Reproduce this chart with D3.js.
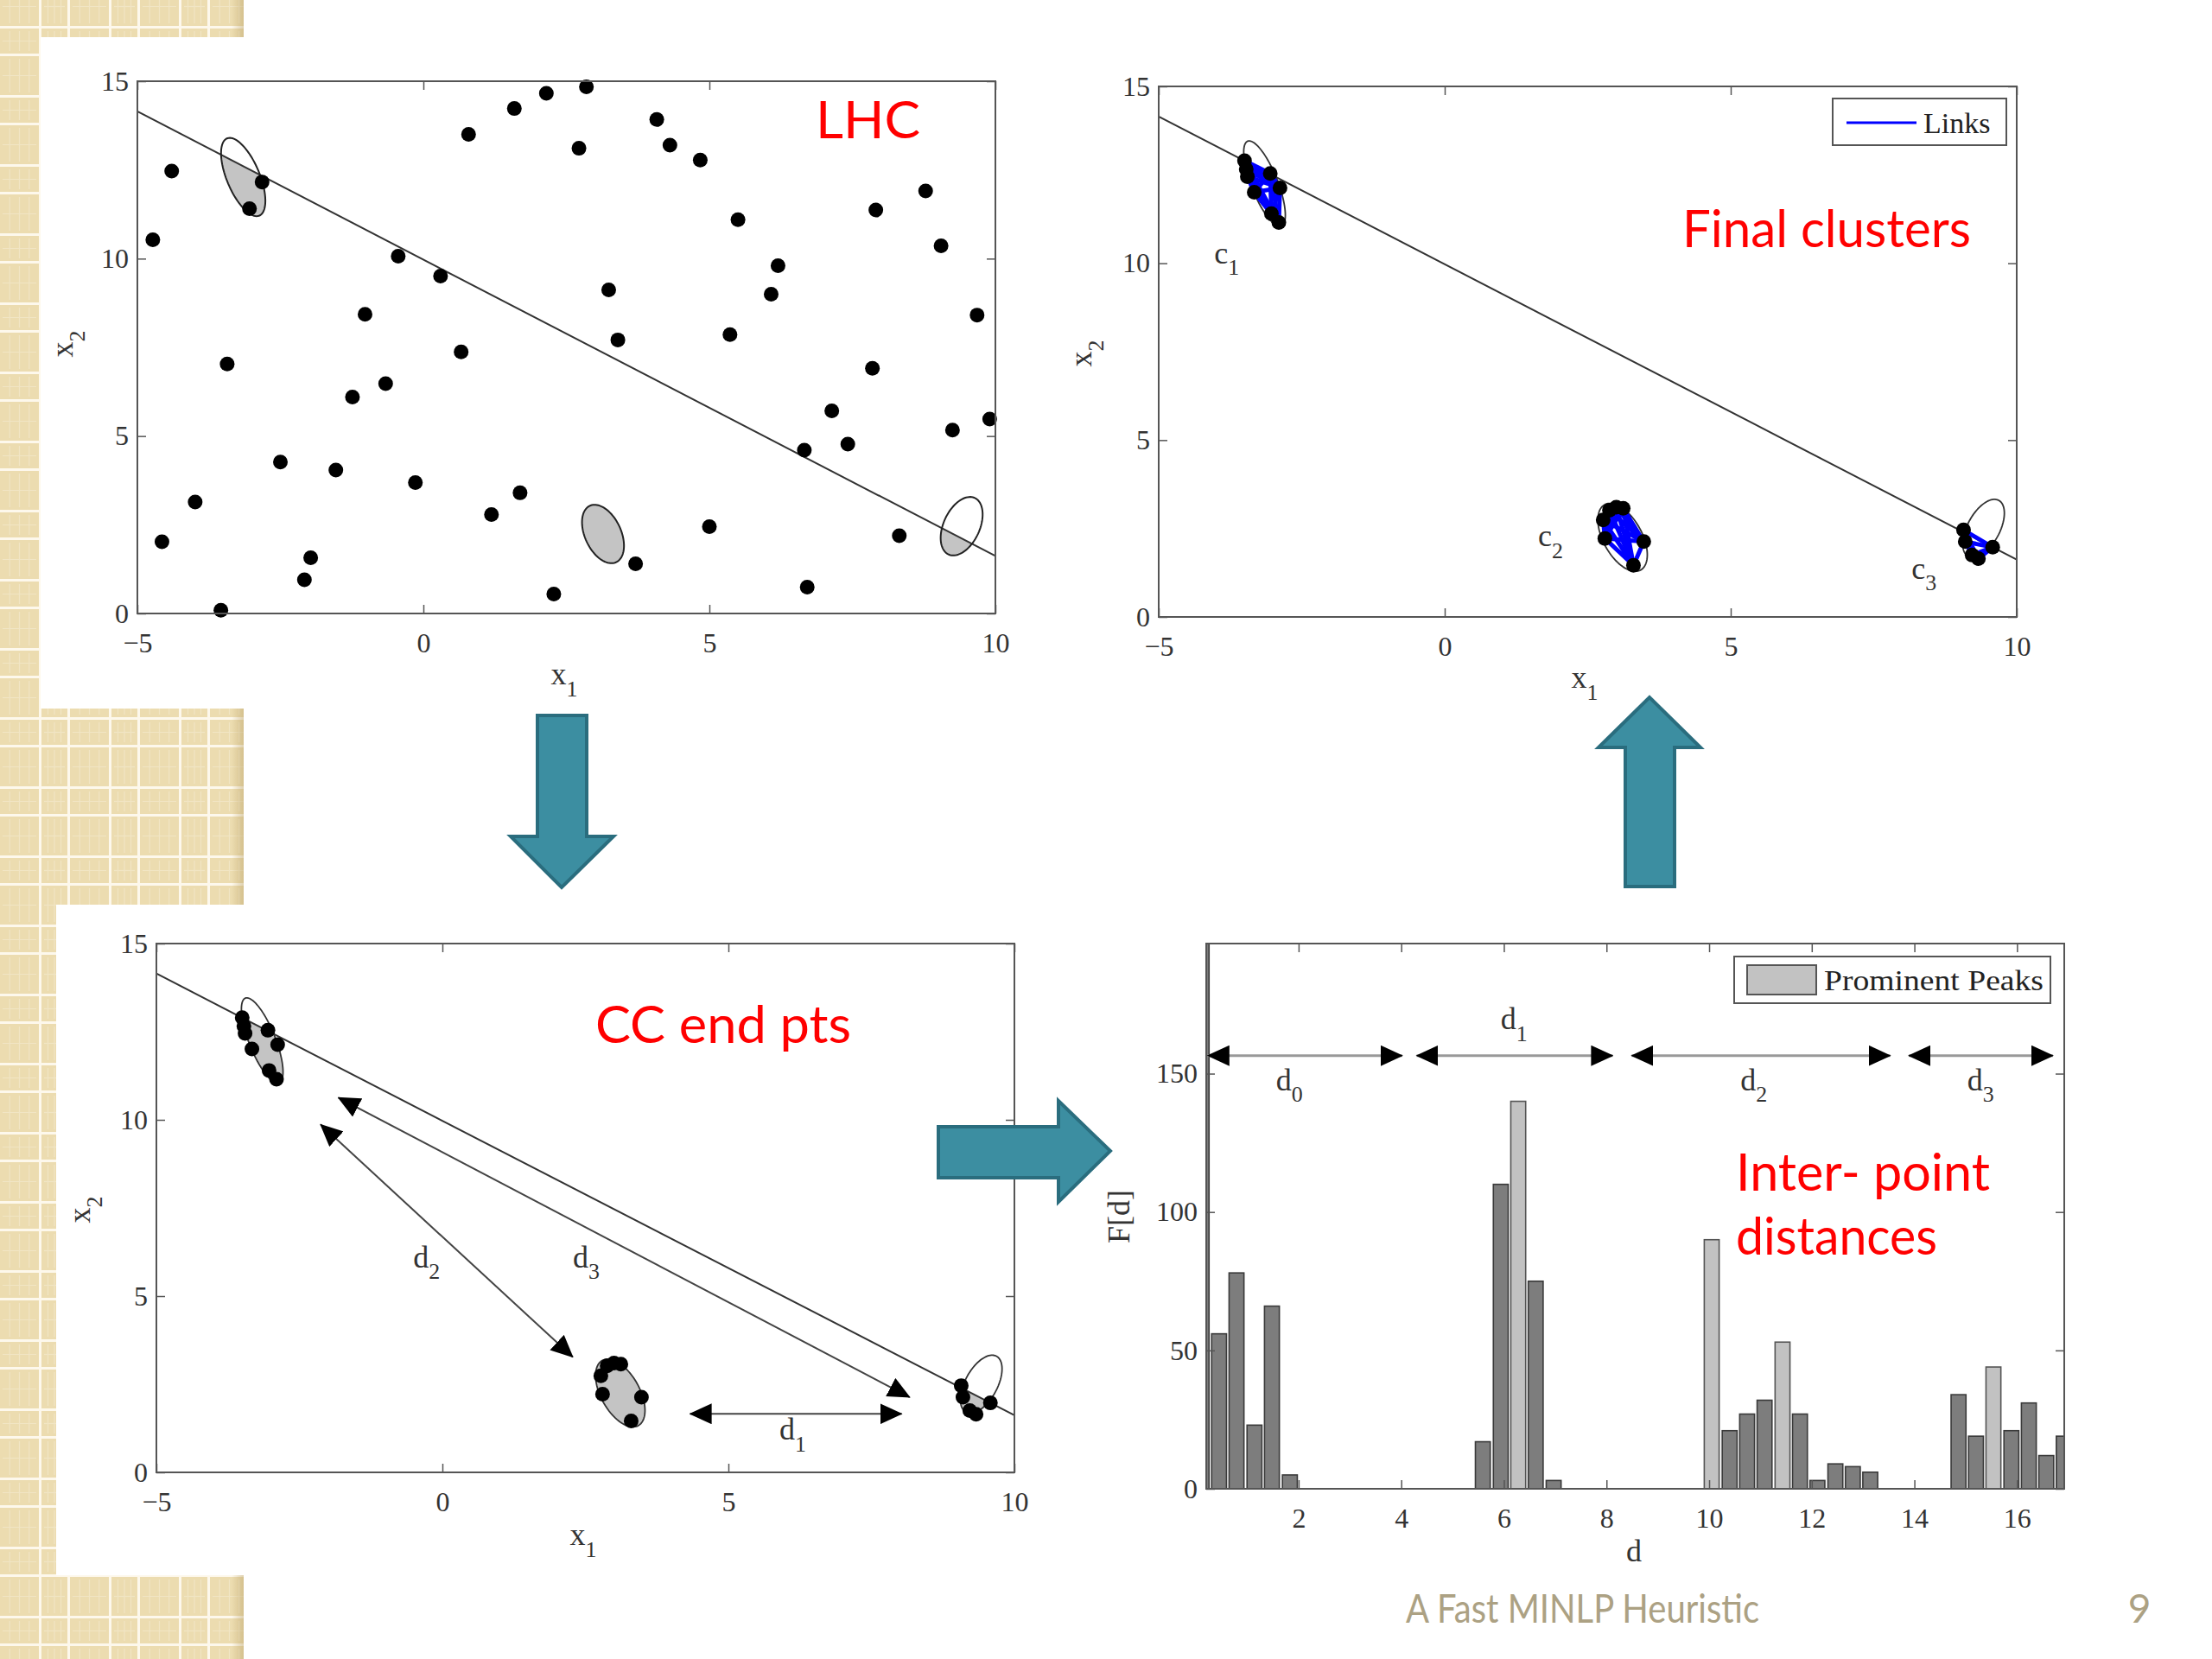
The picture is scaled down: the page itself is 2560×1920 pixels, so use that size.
<!DOCTYPE html>
<html>
<head>
<meta charset="utf-8">
<script src="https://cdn.jsdelivr.net/npm/d3@7"></script>
<style>
body { margin: 0; background: #fff; }
svg { display: block; }
</style>
</head>
<body>
<script>
// ---- data ----
var lhcPoints = [
  [2.85,14.84],[2.15,14.66],[1.59,14.23],[0.79,13.50],[2.72,13.11],[4.08,13.92],[4.31,13.20],[4.84,12.78],
  [-4.40,12.47],[-2.82,12.16],[-3.04,11.41],[5.50,11.10],[7.91,11.37],[8.78,11.91],[9.05,10.36],[-4.73,10.53],
  [-0.44,10.07],[0.30,9.51],[6.20,9.80],[6.08,9.00],[3.24,9.12],[-1.02,8.43],[9.68,8.41],[0.66,7.37],
  [3.40,7.71],[5.36,7.86],[-3.43,7.03],[-0.66,6.48],[-1.24,6.10],[7.85,6.91],[7.14,5.71],[9.90,5.48],
  [9.25,5.17],[7.42,4.77],[6.66,4.60],[-2.50,4.27],[-1.53,4.04],[-0.14,3.69],[1.69,3.40],[-3.99,3.14],
  [1.19,2.79],[5.00,2.45],[-4.57,2.02],[8.32,2.19],[-1.97,1.57],[-2.08,0.95],[3.71,1.40],[2.28,0.55],
  [6.71,0.74],[-3.54,0.09]
];
// ellipses: centre, semi axes (data units), tilt of major axis from vertical (deg)
var lhcEllipses = [
  {cx:-3.15, cy:12.30, a:1.13, b:0.30, tilt:13},
  {cx:3.14,  cy:2.24,  a:0.84, b:0.33, tilt:12},
  {cx:9.41,  cy:2.46,  a:0.84, b:0.33, tilt:-12}
];
var splitLine = [[-5,14.15],[10,1.62]];

var cluster1 = [[-3.50,12.90],[-3.47,12.66],[-3.45,12.45],[-3.05,12.54],[-2.88,12.13],[-3.33,12.01],[-3.03,11.40],[-2.90,11.15]];
var cluster2 = [[2.88,3.02],[3.00,3.10],[3.12,3.07],[2.77,2.74],[2.80,2.22],[3.48,2.13],[3.30,1.46]];
var cluster3 = [[9.07,2.46],[9.10,2.13],[9.22,1.75],[9.33,1.65],[9.58,1.97]];
var clusterEllipses = [
  {cx:-3.15, cy:12.25, a:1.24, b:0.24, tilt:13},
  {cx:3.11,  cy:2.25,  a:0.99, b:0.36, tilt:15},
  {cx:9.42,  cy:2.50,  a:0.85, b:0.30, tilt:-15}
];
var clusterNames = ['1','2','3'];
var clusterLabelAt = [[-4.03,10.0],[1.63,2.0],[8.16,1.08]];

var ccArrows = [[[-2.13,9.87],[2.28,3.27]], [[-1.82,10.63],[8.17,2.13]], [[4.33,1.66],[8.03,1.66]]];
var ccArrowNames = ['2','3','1'];
var ccArrowLabelAt = [[-0.51,5.82],[2.28,5.82],[5.89,0.93]];

var binCenters = [0.11,0.45,0.79,1.14,1.48,1.83, 5.59,5.94,6.28,6.62,6.97,
  10.05,10.40,10.74,11.08,11.43,11.77,12.11,12.46,12.80,13.14,
  14.86,15.20,15.54,15.89,16.23,16.57,16.91];
var binCounts = [400,56,78,23,66,5, 17,110,140,75,3, 90,21,27,32,53,27,3,9,8,6, 34,19,44,21,31,12,19];
var binProminent = [0,0,0,0,0,0, 0,0,1,0,0, 1,0,0,0,1,0,0,0,0,0, 0,0,1,0,0,0,0];
var binWidth = 0.29;
var histRanges = [[0.23,4.02],[4.30,8.12],[8.49,13.53],[13.89,16.70]];
var histRangeLevel = 156.5;
var histRangeLabelAt = [[1.82,144],[6.2,166],[10.87,144],[15.29,144]];

var scatterXTicks = [-5,0,5,10], scatterYTicks = [0,5,10,15];
var histXTicks = [2,4,6,8,10,12,14,16], histYTicks = [0,50,100,150];

// ---- page ----
var W = 2560, H = 1920;
var SERIF = 'Liberation Serif, Times New Roman, serif';
var SANS = 'Lato, Open Sans, sans-serif';
var svg = d3.select('body').append('svg').attr('width', W).attr('height', H);
var defs = svg.append('defs');

// beige tile background on the left
var pat = defs.append('pattern').attr('id','tiles').attr('patternUnits','userSpaceOnUse')
    .attr('width',81).attr('height',80).attr('patternTransform','translate(0,33)');
pat.append('rect').attr('width',81).attr('height',80).attr('fill','#fdf8ec');
[[0,45],[48,30]].forEach(function(cx){
  [[0,29],[32,45]].forEach(function(cy){
    pat.append('rect').attr('x',cx[0]).attr('y',cy[0]).attr('width',cx[1]).attr('height',cy[1]).attr('fill','#ecdcb0');
    for (var i = 1; i < 4; i++) {
      pat.append('line').attr('x1',cx[0]+cx[1]*i/4).attr('x2',cx[0]+cx[1]*i/4)
        .attr('y1',cy[0]+3).attr('y2',cy[0]+cy[1]-3).attr('stroke','#f1e5c4').attr('stroke-width',1.2);
    }
    pat.append('line').attr('x1',cx[0]+3).attr('x2',cx[0]+cx[1]-3)
      .attr('y1',cy[0]+cy[1]/2).attr('y2',cy[0]+cy[1]/2).attr('stroke','#f1e5c4').attr('stroke-width',1.2);
  });
});
var shade = defs.append('linearGradient').attr('id','shade');
shade.append('stop').attr('offset','0').attr('stop-color','#b89f63').attr('stop-opacity',0);
shade.append('stop').attr('offset','1').attr('stop-color','#b89f63').attr('stop-opacity',0.45);

var bgBlocks = [[0,0,282,43],[0,43,47,777],[0,820,282,227],[0,1047,65,776],[0,1823,282,97]];
svg.selectAll('rect.bg').data(bgBlocks).enter().append('rect')
  .attr('x', function(d){return d[0];}).attr('y', function(d){return d[1];})
  .attr('width', function(d){return d[2];}).attr('height', function(d){return d[3];})
  .attr('fill','url(#tiles)');
[[0,43],[820,227],[1823,97]].forEach(function(b){
  svg.append('rect').attr('x',268).attr('y',b[0]).attr('width',14).attr('height',b[1]).attr('fill','url(#shade)');
});

// arrow head marker
var mk = defs.append('marker').attr('id','head').attr('markerUnits','userSpaceOnUse')
  .attr('viewBox','0 0 26 24').attr('markerWidth',26).attr('markerHeight',24)
  .attr('refX',25).attr('refY',12).attr('orient','auto-start-reverse');
mk.append('path').attr('d','M0,0 L26,12 L0,24 Z').attr('fill','#000');

// ---- helpers ----
function drawAxes(g, x, y, xt, yt) {
  var b = y.range()[0], t = y.range()[1], l = x.range()[0], r = x.range()[1];
  g.append('g').attr('transform','translate(0,'+b+')')
    .call(d3.axisBottom(x).tickValues(xt).tickSizeInner(-10).tickSizeOuter(0).tickPadding(22));
  g.append('g').attr('transform','translate(0,'+t+')')
    .call(d3.axisTop(x).tickValues(xt).tickSizeInner(-10).tickSizeOuter(0).tickFormat(''));
  g.append('g').attr('transform','translate('+l+',0)')
    .call(d3.axisLeft(y).tickValues(yt).tickSizeInner(-10).tickSizeOuter(0).tickPadding(10));
  g.append('g').attr('transform','translate('+r+',0)')
    .call(d3.axisRight(y).tickValues(yt).tickSizeInner(-10).tickSizeOuter(0).tickFormat(''));
  g.selectAll('.domain').remove();
  g.selectAll('.tick line').attr('stroke','#555').attr('stroke-width',1.5);
  g.selectAll('.tick text').attr('font-family',SERIF).attr('font-size',32).attr('fill','#333');
  g.append('rect').attr('x',l).attr('y',t).attr('width',r-l).attr('height',b-t)
    .attr('fill','none').attr('stroke','#555').attr('stroke-width',2);
}

function subText(g, px, py, main, sub, size, anchor, rot) {
  var t = g.append('text')
    .attr('transform','translate('+px+','+py+')'+(rot ? ' rotate(-90)' : ''))
    .attr('font-family',SERIF).attr('font-size',size).attr('fill','#333')
    .attr('text-anchor',anchor || 'middle');
  t.append('tspan').text(main);
  t.append('tspan').attr('font-size',size*0.72).attr('dy',size*0.38).text(sub);
  return t;
}

function redText(txt, px, py, len) {
  svg.append('text').attr('x',px).attr('y',py).attr('font-family',SANS).attr('font-size',60)
    .attr('fill','#ff0000').attr('textLength',len).attr('lengthAdjust','spacingAndGlyphs').text(txt);
}

function ellipsePts(e) {
  var t = e.tilt*Math.PI/180, pts = [];
  for (var i = 0; i < 90; i++) {
    var s = i/90*2*Math.PI;
    pts.push([e.cx - e.a*Math.sin(t)*Math.cos(s) + e.b*Math.cos(t)*Math.sin(s),
              e.cy + e.a*Math.cos(t)*Math.cos(s) + e.b*Math.sin(t)*Math.sin(s)]);
  }
  return pts;
}

function scatterPanel(id, box) {
  var x = d3.scaleLinear().domain([-5,10]).range([box[0], box[2]]);
  var y = d3.scaleLinear().domain([0,15]).range([box[3], box[1]]);
  var g = svg.append('g');
  // region under the split line, used to shade the ellipses
  var under = [splitLine[0], splitLine[1], [10,0], [-5,0]];
  defs.append('clipPath').attr('id','under'+id).append('path')
    .attr('d', d3.line().x(function(d){return x(d[0]);}).y(function(d){return y(d[1]);})(under) + 'Z');
  var eLine = d3.line().x(function(d){return x(d[0]);}).y(function(d){return y(d[1]);}).curve(d3.curveLinearClosed);
  return {x:x, y:y, g:g, eLine:eLine};
}

function drawSplit(p) {
  p.g.append('line').attr('x1',p.x(splitLine[0][0])).attr('y1',p.y(splitLine[0][1]))
    .attr('x2',p.x(splitLine[1][0])).attr('y2',p.y(splitLine[1][1]))
    .attr('stroke','#333').attr('stroke-width',2);
}

function drawDots(p, pts) {
  p.g.selectAll(null).data(pts).enter().append('circle')
    .attr('cx',function(d){return p.x(d[0]);}).attr('cy',function(d){return p.y(d[1]);})
    .attr('r',8.5).attr('fill','#000');
}

// ---- panel 1: LHC ----
var p1 = scatterPanel(1, [159,94,1152,710]);
p1.g.selectAll(null).data(lhcEllipses).enter().append('path')
  .attr('d',function(d){return p1.eLine(ellipsePts(d));})
  .attr('fill','#c4c4c4').attr('clip-path','url(#under1)');
drawSplit(p1);
p1.g.selectAll(null).data(lhcEllipses).enter().append('path')
  .attr('d',function(d){return p1.eLine(ellipsePts(d));})
  .attr('fill','none').attr('stroke','#222').attr('stroke-width',2);
drawDots(p1, lhcPoints);
drawAxes(p1.g, p1.x, p1.y, scatterXTicks, scatterYTicks);
subText(svg, 653, 792, 'x', '1', 36);
subText(svg, 84, 398, 'x', '2', 36, 'middle', true);
redText('LHC', 944, 160, 121);

// ---- panel 2: final clusters ----
var clusters = [cluster1, cluster2, cluster3];
var p2 = scatterPanel(2, [1341,100,2334,714]);
drawSplit(p2);
p2.g.selectAll(null).data(clusterEllipses).enter().append('path')
  .attr('d',function(d){return p2.eLine(ellipsePts(d));})
  .attr('fill','none').attr('stroke','#333').attr('stroke-width',1.8);
clusters.forEach(function(c){
  var links = [];
  c.forEach(function(a,i){ c.forEach(function(b,j){ if (j > i) links.push([a,b]); }); });
  p2.g.selectAll(null).data(links).enter().append('line')
    .attr('x1',function(d){return p2.x(d[0][0]);}).attr('y1',function(d){return p2.y(d[0][1]);})
    .attr('x2',function(d){return p2.x(d[1][0]);}).attr('y2',function(d){return p2.y(d[1][1]);})
    .attr('stroke','#0000ff').attr('stroke-width',5);
  drawDots(p2, c);
});
clusterLabelAt.forEach(function(d,i){
  subText(p2.g, p2.x(d[0]), p2.y(d[1]), 'c', clusterNames[i], 36, 'start');
});
drawAxes(p2.g, p2.x, p2.y, scatterXTicks, scatterYTicks);
subText(svg, 1834, 796, 'x', '1', 36);
subText(svg, 1263, 409, 'x', '2', 36, 'middle', true);
// legend
svg.append('rect').attr('x',2121).attr('y',114).attr('width',201).attr('height',54)
  .attr('fill','#fff').attr('stroke','#555').attr('stroke-width',2);
svg.append('line').attr('x1',2137).attr('x2',2218).attr('y1',142).attr('y2',142)
  .attr('stroke','#0000ff').attr('stroke-width',3);
svg.append('text').attr('x',2226).attr('y',154).attr('font-family',SERIF).attr('font-size',34)
  .attr('fill','#222').text('Links');
redText('Final clusters', 1947, 286, 334);

// ---- panel 3: CC end points ----
var p3 = scatterPanel(3, [181,1092,1174,1704]);
p3.g.selectAll(null).data(clusterEllipses).enter().append('path')
  .attr('d',function(d){return p3.eLine(ellipsePts(d));})
  .attr('fill','#c4c4c4').attr('clip-path','url(#under3)');
drawSplit(p3);
p3.g.selectAll(null).data(clusterEllipses).enter().append('path')
  .attr('d',function(d){return p3.eLine(ellipsePts(d));})
  .attr('fill','none').attr('stroke','#333').attr('stroke-width',1.8);
clusters.forEach(function(c){ drawDots(p3, c); });
p3.g.selectAll(null).data(ccArrows).enter().append('line')
  .attr('x1',function(d){return p3.x(d[0][0]);}).attr('y1',function(d){return p3.y(d[0][1]);})
  .attr('x2',function(d){return p3.x(d[1][0]);}).attr('y2',function(d){return p3.y(d[1][1]);})
  .attr('stroke','#444').attr('stroke-width',2)
  .attr('marker-start','url(#head)').attr('marker-end','url(#head)');
ccArrowLabelAt.forEach(function(d,i){
  subText(p3.g, p3.x(d[0]), p3.y(d[1]), 'd', ccArrowNames[i], 36, 'start');
});
drawAxes(p3.g, p3.x, p3.y, scatterXTicks, scatterYTicks);
subText(svg, 675, 1788, 'x', '1', 36);
subText(svg, 104, 1400, 'x', '2', 36, 'middle', true);
redText('CC end pts', 689, 1207, 296);

// ---- panel 4: histogram of inter-point distances ----
var hx = d3.scaleLinear().domain([0.20,16.92]).range([1396,2389]);
var hy = d3.scaleLinear().domain([0,197]).range([1723,1092]);
var g4 = svg.append('g');
defs.append('clipPath').attr('id','histClip').append('rect')
  .attr('x',1396).attr('y',1092).attr('width',993).attr('height',631);
var bars = binCenters.map(function(c,i){ return {c:c, v:binCounts[i], p:binProminent[i]}; });
g4.append('g').attr('clip-path','url(#histClip)').selectAll('rect').data(bars).enter().append('rect')
  .attr('x',function(d){return hx(d.c - binWidth/2);})
  .attr('width',function(d){return hx(d.c + binWidth/2) - hx(d.c - binWidth/2);})
  .attr('y',function(d){return hy(d.v);})
  .attr('height',function(d){return hy(0) - hy(d.v);})
  .attr('fill',function(d){return d.p ? '#c2c2c2' : '#7d7d7d';})
  .attr('stroke',function(d){return d.p ? '#555' : '#3a3a3a';})
  .attr('stroke-width',1.6);
g4.selectAll(null).data(histRanges).enter().append('line')
  .attr('x1',function(d){return hx(d[0]);}).attr('x2',function(d){return hx(d[1]);})
  .attr('y1',hy(histRangeLevel)).attr('y2',hy(histRangeLevel))
  .attr('stroke','#999').attr('stroke-width',3)
  .attr('marker-start','url(#head)').attr('marker-end','url(#head)');
histRangeLabelAt.forEach(function(d,i){
  subText(g4, hx(d[0]), hy(d[1]), 'd', String(i), 36, 'middle');
});
drawAxes(g4, hx, hy, histXTicks, histYTicks);
g4.append('text').attr('x',1891).attr('y',1807).attr('text-anchor','middle')
  .attr('font-family',SERIF).attr('font-size',36).attr('fill','#333').text('d');
g4.append('text').attr('transform','translate(1307,1408) rotate(-90)').attr('text-anchor','middle')
  .attr('font-family',SERIF).attr('font-size',36).attr('fill','#333').text('F[d]');
// legend
svg.append('rect').attr('x',2007).attr('y',1107).attr('width',366).attr('height',54)
  .attr('fill','#fff').attr('stroke','#555').attr('stroke-width',2);
svg.append('rect').attr('x',2022).attr('y',1117).attr('width',80).attr('height',34)
  .attr('fill','#c2c2c2').attr('stroke','#555').attr('stroke-width',2);
svg.append('text').attr('x',2111).attr('y',1146).attr('font-family',SERIF).attr('font-size',34)
  .attr('fill','#222').attr('textLength',254).attr('lengthAdjust','spacingAndGlyphs').text('Prominent Peaks');
redText('Inter- point', 2009, 1378, 294);
redText('distances', 2009, 1452, 233);

// ---- flow arrows between panels ----
var flowArrows = [
  [[622,828],[679,828],[679,968],[710,968],[650,1027],[591,968],[622,968]],
  [[1881,1026],[1938,1026],[1938,865],[1968,865],[1909,807],[1850,865],[1881,865]],
  [[1086,1304],[1225,1304],[1225,1274],[1285,1332],[1225,1391],[1225,1363],[1086,1363]]
];
svg.selectAll('polygon.flow').data(flowArrows).enter().append('polygon')
  .attr('points',function(d){return d.join(' ');})
  .attr('fill','#3c8ea1').attr('stroke','#2a6d7e').attr('stroke-width',4).attr('stroke-linejoin','miter');

// ---- footer ----
svg.append('text').attr('x',1627).attr('y',1878).attr('font-family',SANS).attr('font-size',46)
  .attr('fill','#aca183').attr('textLength',409).attr('lengthAdjust','spacingAndGlyphs').text('A Fast MINLP Heuristic');
svg.append('text').attr('x',2476).attr('y',1878).attr('text-anchor','middle').attr('font-family',SANS)
  .attr('font-size',46).attr('fill','#aca183').text('9');
</script>
</body>
</html>
